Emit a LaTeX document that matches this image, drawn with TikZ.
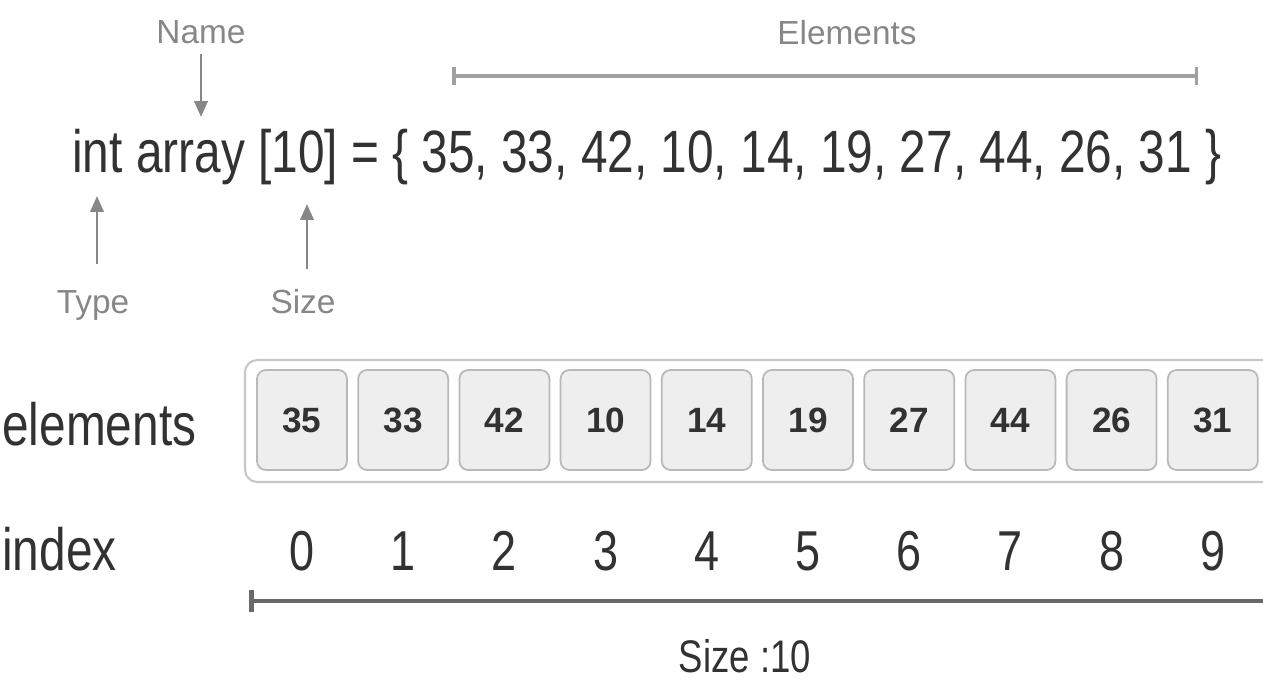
\documentclass[tikz,border=0pt]{standalone}
\usepackage{fontspec}
\setmainfont[FakeStretch=0.8]{Liberation Sans}
\newfontfamily\plainsans{Liberation Sans}
\usetikzlibrary{arrows.meta}
\definecolor{codegray}{RGB}{50,50,50}
\definecolor{lblgray}{RGB}{135,135,135}
\definecolor{cellfill}{RGB}{238,238,238}
\definecolor{celldraw}{RGB}{185,185,185}
\definecolor{framedraw}{RGB}{200,200,200}
\definecolor{barlight}{RGB}{160,160,160}
\definecolor{bardark}{RGB}{105,105,105}
\tikzset{
  codetxt/.style={inner sep=0pt, text=codegray, font=\fontsize{34}{40}\selectfont},
  sidetxt/.style={inner sep=0pt, text=codegray, font=\fontsize{34}{40}\selectfont},
  idxtxt/.style={inner sep=0pt, text=codegray, font=\fontsize{32}{38}\selectfont},
  sizetxt/.style={inner sep=0pt, text=codegray, font=\fontsize{26}{30}\selectfont},
  lbltxt/.style={inner sep=0pt, text=lblgray, font=\plainsans\fontsize{19}{22}\selectfont},
  lblarrow/.style={draw=lblgray, line width=1.6pt, -{Triangle[length=9pt,width=7.5pt]}},
  cell/.style={draw=celldraw, fill=cellfill, rounded corners=5pt, line width=1pt,
               minimum width=1.8cm, minimum height=2cm, inner sep=0pt,
               text=codegray, font=\plainsans\bfseries\fontsize{20}{24}\selectfont},
  frame/.style={draw=framedraw, fill=white, rounded corners=7pt, line width=1.2pt},
  elembar/.style={draw=barlight, line width=2pt, {Bar[width=10pt]}-{Bar[width=10pt]}},
  sizebar/.style={draw=bardark, line width=2.6pt, {Bar[width=13pt]}-},
}
\newcommand{\cellx}[1]{302+101.2*#1}

\begin{document}
\begin{tikzpicture}[x=0.02cm, y=-0.02cm]
  \useasboundingbox (0,0) rectangle (1263,681);
  \clip (0,0) rectangle (1263,681);

  % declaration line
  \node[codetxt, anchor=base west] (decl) at (72,172)
    {int array [10] = \{ 35, 33, 42, 10, 14, 19, 27, 44, 26, 31 \}};

  \node[lbltxt, anchor=base] (name) at (201,43) {Name};
  \node[lbltxt, anchor=base] (elems) at (847,44) {Elements};
  \node[lbltxt, anchor=base] (type) at (93,313) {Type};
  \node[lbltxt, anchor=base] (size) at (303,313) {Size};

  \coordinate (nameTip) at (201,117);
  \coordinate (typeTip) at (97,196);
  \coordinate (sizeTip) at (307,204);
  \draw[lblarrow, shorten <=6pt] (name) -- (nameTip);
  \draw[lblarrow] (type.north -| typeTip) ++(0,-26) -- (typeTip);
  \draw[lblarrow] (size.north -| sizeTip) ++(0,-19) -- (sizeTip);

  \coordinate (elemL) at (452,76);
  \coordinate (elemR) at (1198,76);
  \draw[elembar] (elemL) -- (elemR);

  % array cells
  \draw[frame] (245,360) rectangle (1290,482);
  \foreach \v [count=\i from 0] in {35,33,42,10,14,19,27,44,26,31} {
    \node[cell] (c\i) at ({\cellx{\i}},420) {\v};
    \node[idxtxt, anchor=base] (i\i) at ({\cellx{\i}},570) {\i};
  }
  \node[sidetxt, anchor=base west] (elemlbl) at (2,445) {elements};
  \node[sidetxt, anchor=base west] (idxlbl) at (2,570) {index};

  \coordinate (sizeL) at (249,601);
  \coordinate (sizeR) at (1290,601);
  \draw[sizebar] (sizeL) -- (sizeR);
  \node[sizetxt, anchor=base] (sizeval) at (745,672) {Size :10};
\end{tikzpicture}
\end{document}
